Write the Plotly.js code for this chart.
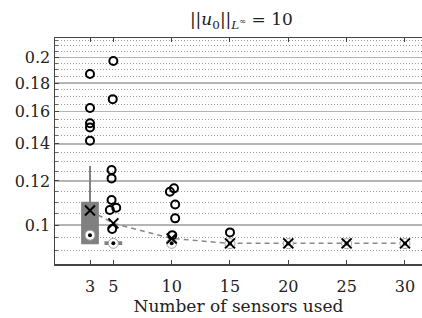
<!DOCTYPE html>
<html>
<head>
<meta charset="utf-8">
<script src="https://cdn.plot.ly/plotly-3.0.1.min.js"></script>
<style>html,body{margin:0;padding:0;background:#fff;}#chart{width:422px;height:318px;}</style>
</head>
<body>
<div id="chart"></div>
<script>
// ---- data ----
var sensors   = [3, 5, 10, 15, 20, 25, 30];
var q1        = [0.0927, 0.0924, 0.0925, 0.0925, 0.0925, 0.0925, 0.0925];
var medians   = [0.0959, 0.0927, 0.0927, 0.0926, 0.0926, 0.0926, 0.0926];
var q3        = [0.1097, 0.0931, 0.0928, 0.0927, 0.0927, 0.0927, 0.0927];
var lowFence  = [0.0927, 0.0924, 0.0925, 0.0925, 0.0925, 0.0925, 0.0925];
var highFence = [0.1277, 0.0931, 0.0928, 0.0927, 0.0927, 0.0927, 0.0927];
var means     = [0.1062, 0.1007, 0.0946, 0.0927, 0.0927, 0.0927, 0.0927];

var outlierX = [3, 3, 3, 3, 3,
                5, 4.95, 4.85, 4.85, 4.85, 4.7, 5.25, 4.9,
                9.85, 10.2, 10.3, 10.3, 10.05,
                15];
var outlierY = [0.1869, 0.1623, 0.1524, 0.1498, 0.1418,
                0.1972, 0.1684, 0.1256, 0.1213, 0.1109, 0.1064, 0.1074, 0.0984,
                0.1148, 0.1164, 0.1089, 0.1028, 0.0959,
                0.0970];

var yTickVals  = [0.1, 0.12, 0.14, 0.16, 0.18, 0.2];
var yTickText  = ['0.1', '0.12', '0.14', '0.16', '0.18', '0.2'];
var yMinorVals = [0.085, 0.09, 0.095, 0.105, 0.11, 0.115, 0.125, 0.13, 0.135,
                  0.145, 0.15, 0.155, 0.165, 0.17, 0.175, 0.185, 0.19, 0.195,
                  0.205, 0.21, 0.215];
var xTickVals  = [3, 5, 10, 15, 20, 25, 30];

var titleText = '||<i>u</i><sub>0</sub>||<sub><i>L</i><sup>∞</sup></sub> = 10';
var xTitle = 'Number of sensors used';

// boxes that are visibly drawn (the rest collapse under the markers)
var nBox = 2;

// ---- traces ----
var FONT = 'DejaVu Serif';
var traces = [
  {
    type: 'box', x: sensors.slice(0, nBox), q1: q1.slice(0, nBox), median: medians.slice(0, nBox),
    q3: q3.slice(0, nBox), lowerfence: lowFence.slice(0, nBox), upperfence: highFence.slice(0, nBox),
    boxpoints: false, width: 1.35, whiskerwidth: 0,
    fillcolor: '#808080', line: {color: '#808080', width: 2},
    hoverinfo: 'skip', showlegend: false
  },
  {
    type: 'scatter', mode: 'lines', x: sensors, y: means,
    line: {color: '#888888', width: 1.5, dash: '5px,4px'},
    hoverinfo: 'skip', showlegend: false
  },
  {
    type: 'scatter', mode: 'markers', x: sensors, y: medians,
    marker: {symbol: 'circle', size: 10, color: '#ffffff', line: {color: '#a0a0a0', width: 1}},
    hoverinfo: 'skip', showlegend: false
  },
  {
    type: 'scatter', mode: 'markers', x: sensors, y: medians,
    marker: {symbol: 'circle', size: 4, color: '#000000'},
    hoverinfo: 'skip', showlegend: false
  },
  {
    type: 'scatter', mode: 'markers', x: outlierX, y: outlierY,
    marker: {symbol: 'circle-open', size: 8, color: '#000000', line: {width: 2}},
    hoverinfo: 'skip', showlegend: false
  },
  {
    type: 'scatter', mode: 'markers', x: sensors, y: means,
    marker: {symbol: 'x-thin', size: 10, color: '#000000', line: {color: '#000000', width: 2}},
    hoverinfo: 'skip', showlegend: false
  }
];

var layout = {
  width: 422, height: 318,
  margin: {l: 55, r: 0, t: 38, b: 54},
  paper_bgcolor: '#ffffff', plot_bgcolor: '#ffffff',
  font: {family: FONT, size: 16, color: '#222222'},
  title: {text: titleText, x: 0.572, xanchor: 'center', y: 0.94, yanchor: 'middle',
          font: {family: FONT, size: 17, color: '#222222'}},
  showlegend: false,
  xaxis: {
    range: [0, 31.46], tickmode: 'array', tickvals: xTickVals,
    ticks: 'inside', ticklen: 4, tickcolor: '#444444', tickwidth: 1,
    showline: true, linecolor: '#444444', linewidth: 1.5, mirror: 'ticks',
    showgrid: false, zeroline: false, ticklabelstandoff: 7,
    tickfont: {family: FONT, size: 16, color: '#222222'},
    title: {text: xTitle, font: {family: FONT, size: 17, color: '#222222'}, standoff: 0}
  },
  yaxis: {
    type: 'log',
    range: [Math.log10(0.0851), Math.log10(0.2169)],
    tickmode: 'array', tickvals: yTickVals, ticktext: yTickText,
    ticks: 'inside', ticklen: 4, tickcolor: '#444444',
    showline: true, linecolor: '#444444', linewidth: 1.5, mirror: false,
    showgrid: true, gridcolor: '#b4b4b4', gridwidth: 1.5,
    zeroline: false,
    tickfont: {family: FONT, size: 16, color: '#222222'},
    minor: {
      tickmode: 'array', tickvals: yMinorVals,
      ticks: 'inside', ticklen: 3, tickcolor: '#666666',
      showgrid: true, gridcolor: '#9a9a9a', gridwidth: 1, griddash: '1px,2px'
    }
  }
};

Plotly.newPlot('chart', traces, layout, {staticPlot: true, displayModeBar: false});
</script>
</body>
</html>
